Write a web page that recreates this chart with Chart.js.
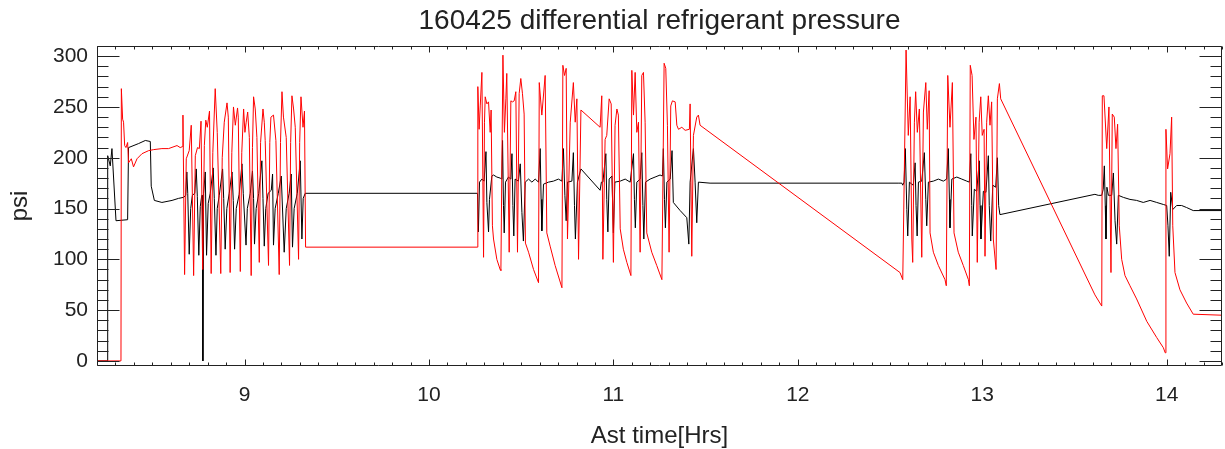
<!DOCTYPE html>
<html lang="en">
<head>
  <meta charset="UTF-8" />
  <title>160425 differential refrigerant pressure</title>
  <script src="https://cdn.jsdelivr.net/npm/chart.js@4"></script>
  <style>
    html, body { margin: 0; padding: 0; background: #fff; }
    canvas { display: block; }
  </style>
</head>
<body>
  <canvas id="grafica" width="1225" height="449"></canvas>

  <script>
    // axis ranges and labelled ticks
    const xRange = [8.2, 14.3];
    const yRange = [-5, 310];
    const xTicks = [9, 10, 11, 12, 13, 14];
    const yTicks = [0, 50, 100, 150, 200, 250, 300];

    // black trace: time [hrs] and psi
    const blackHrs = [
      8.200, 8.257, 8.258, 8.272, 8.281, 8.303, 8.366, 8.371, 8.426, 8.462, 8.489, 8.494, 8.511, 8.552, 8.607, 8.642, 8.669,
      8.681, 8.687, 8.692, 8.700, 8.708, 8.717, 8.730, 8.738, 8.744, 8.752, 8.760, 8.768, 8.771, 8.774, 8.778,
      8.787, 8.794, 8.803, 8.814, 8.830, 8.836, 8.845, 8.852, 8.863, 8.881, 8.887, 8.895, 8.904, 8.917,
      8.932, 8.939, 8.946, 8.955, 8.971, 8.986, 8.993, 9.008, 9.015, 9.031, 9.043, 9.049, 9.054, 9.063, 9.077,
      9.094, 9.100, 9.107, 9.115, 9.128, 9.145, 9.152, 9.157, 9.166, 9.183, 9.199, 9.215, 9.226, 9.242,
      9.253, 9.260, 9.269, 9.286, 9.302, 9.311, 9.318, 9.329,
      10.263, 10.268, 10.274, 10.287, 10.299, 10.309, 10.314, 10.323, 10.328, 10.341, 10.350, 10.368, 10.386,
      10.395, 10.399, 10.404, 10.408, 10.415, 10.431, 10.444, 10.450, 10.455, 10.460, 10.467, 10.485, 10.495,
      10.504, 10.512, 10.522, 10.540, 10.558, 10.576, 10.594, 10.603, 10.608, 10.612, 10.621, 10.648, 10.675,
      10.702, 10.721, 10.729, 10.737, 10.744, 10.751, 10.775, 10.783, 10.789, 10.794, 10.805, 10.824,
      10.928, 10.935, 10.943, 10.959, 10.964, 10.970, 10.977, 10.992, 11.000, 11.008, 11.037, 11.064, 11.091,
      11.109, 11.114, 11.119, 11.127, 11.145, 11.154, 11.160, 11.165, 11.174, 11.199, 11.226, 11.253, 11.266,
      11.271, 11.277, 11.282, 11.290, 11.308, 11.318, 11.325, 11.362, 11.398, 11.409, 11.416, 11.434, 11.443,
      11.452, 11.461, 11.524, 12.544,
      12.564, 12.569, 12.576, 12.583, 12.591, 12.596, 12.605, 12.618, 12.626, 12.636, 12.641, 12.647, 12.654,
      12.672, 12.686, 12.694, 12.699, 12.708, 12.735, 12.762, 12.789, 12.807, 12.816, 12.822, 12.825, 12.835,
      12.862, 12.889, 12.916, 12.930, 12.938, 12.943, 12.946, 12.957, 12.970, 12.984, 12.988, 12.993, 13.006,
      13.020, 13.033, 13.038, 13.046, 13.057, 13.073, 13.082, 13.089, 13.096,
      13.611, 13.629, 13.648, 13.656, 13.662, 13.667, 13.671, 13.676, 13.684, 13.702, 13.711, 13.720, 13.729,
      13.738, 13.765, 13.801, 13.837, 13.873, 13.910, 13.946, 13.982, 14.000, 14.007, 14.014, 14.022, 14.033,
      14.054, 14.081, 14.108, 14.144, 14.300
    ];
    const blackPsi = [
      0, 0, 202, 192, 209, 138, 139, 210, 214, 217, 216, 172, 158, 156, 158, 160, 161,
      163, 186, 165, 105, 150, 163, 165, 189, 162, 104, 152, 163, 163, 0, 165,
      186, 104, 155, 165, 190, 160, 104, 150, 163, 189, 160, 110, 150, 165,
      186, 158, 110, 150, 164, 194, 165, 114, 150, 165, 187, 160, 115, 150, 165,
      197, 160, 113, 150, 165, 168, 184, 114, 150, 165, 182, 107, 150, 165,
      184, 112, 150, 165, 197, 120, 160, 165,
      165, 127, 176, 179, 177, 206, 156, 127, 159, 182, 183, 181, 180,
      179, 217, 153, 126, 176, 181, 179, 204, 153, 123, 179, 177, 194,
      146, 118, 176, 179, 176, 179, 176, 209, 159, 128, 174, 176, 177,
      179, 177, 209, 163, 138, 176, 177, 205, 153, 120, 176, 189,
      168, 176, 176, 204, 159, 127, 179, 182, 126, 176, 177, 179, 176,
      204, 159, 131, 176, 179, 205, 153, 120, 176, 179, 181, 183, 182,
      209, 159, 131, 176, 179, 207, 156, 148, 141, 115, 176, 209, 176,
      136, 176, 175, 175,
      175, 173, 176, 209, 149, 123, 176, 174, 173, 195, 153, 123, 176,
      177, 205, 159, 133, 176, 177, 179, 177, 179, 209, 159, 131, 179,
      181, 179, 177, 176, 204, 153, 123, 169, 167, 197, 153, 120, 167,
      166, 202, 153, 118, 173, 171, 200, 153, 144,
      164, 163, 163, 169, 192, 153, 120, 171, 163, 163, 185, 138, 115,
      163, 161, 159, 158, 156, 158, 156, 154, 153, 133, 103, 166, 149,
      153, 153, 151, 148, 148
    ];

    // red trace: time [hrs] and psi
    const redHrs = [
      8.200, 8.330, 8.332, 8.339, 8.344, 8.350, 8.357, 8.366, 8.371, 8.386, 8.398, 8.417, 8.444, 8.480, 8.507,
      8.552, 8.588, 8.634, 8.651, 8.664,
      8.666, 8.675, 8.684, 8.700, 8.711, 8.724, 8.733, 8.745, 8.755, 8.764, 8.773, 8.782, 8.790, 8.798, 8.810,
      8.819, 8.828, 8.841, 8.852, 8.871, 8.879, 8.890, 8.905, 8.912, 8.922, 8.931, 8.940, 8.950, 8.962, 8.966,
      8.977, 8.985, 8.995, 9.002, 9.009, 9.017, 9.026, 9.036, 9.043, 9.049, 9.058, 9.067, 9.080, 9.087, 9.100,
      9.107, 9.112, 9.130, 9.137, 9.143, 9.157, 9.170, 9.188, 9.195, 9.203, 9.211, 9.226, 9.244, 9.250, 9.257,
      9.266, 9.275, 9.293, 9.299, 9.306, 9.317, 9.325, 9.331,
      10.263, 10.265, 10.272, 10.278, 10.287, 10.296, 10.301, 10.305, 10.314, 10.323, 10.332, 10.337, 10.344,
      10.350, 10.368, 10.386, 10.390, 10.401, 10.409, 10.417, 10.422, 10.435, 10.444, 10.453, 10.462, 10.471,
      10.480, 10.489, 10.498, 10.507, 10.516, 10.523, 10.540, 10.567, 10.594, 10.598, 10.612, 10.630, 10.639,
      10.657, 10.684, 10.721, 10.726, 10.735, 10.744, 10.751, 10.766, 10.783, 10.793, 10.802, 10.811, 10.824,
      10.928, 10.937, 10.943, 10.955, 10.964, 10.977, 10.988, 11.000, 11.009, 11.019, 11.027, 11.037, 11.054,
      11.073, 11.095, 11.100, 11.109, 11.118, 11.127, 11.136, 11.145, 11.154, 11.163, 11.172, 11.181, 11.208,
      11.235, 11.263, 11.275, 11.284, 11.293, 11.302, 11.311, 11.320, 11.335, 11.344, 11.353, 11.371, 11.389,
      11.412, 11.416, 11.425, 11.434, 11.452, 11.461, 11.470,
      12.554, 12.569, 12.587, 12.599, 12.609, 12.618, 12.623, 12.632, 12.639, 12.648, 12.659, 12.672, 12.681,
      12.694, 12.702, 12.712, 12.717, 12.735, 12.762, 12.798, 12.805, 12.813, 12.825, 12.838, 12.847, 12.870,
      12.897, 12.925, 12.930, 12.935, 12.945, 12.955, 12.966, 12.973, 12.983, 12.992, 13.000, 13.010, 13.015,
      13.024, 13.033, 13.042, 13.051, 13.060, 13.075, 13.082, 13.093, 13.100,
      13.611, 13.648, 13.651, 13.660, 13.675, 13.687, 13.698, 13.705, 13.716, 13.725, 13.734, 13.743, 13.756,
      13.774, 13.801, 13.837, 13.892, 13.946, 13.982, 13.992, 13.996, 14.005, 14.018, 14.027, 14.033, 14.045,
      14.072, 14.108, 14.144, 14.300
    ];
    const redPsi = [
      0, 0, 268, 238, 235, 212, 210, 215, 195, 199, 191, 199, 204, 207, 208,
      209, 209, 212, 210, 211,
      242, 85, 199, 207, 232, 84, 202, 210, 209, 236, 90, 212, 237, 230, 246,
      86, 205, 268, 225, 86, 200, 235, 254, 240, 87, 205, 250, 232, 249, 240,
      88, 205, 248, 225, 235, 245, 220, 84, 210, 260, 248, 220, 97, 215, 248,
      235, 217, 94, 215, 240, 242, 217, 85, 215, 265, 240, 220, 94, 215, 261,
      248, 230, 100, 215, 260, 230, 246, 112,
      112, 270, 228, 251, 284, 102, 235, 260, 253, 255, 225, 247, 133,
      120, 100, 90, 89, 301, 225, 258, 283, 107, 256, 255, 256, 265,
      107, 263, 278, 263, 243, 116, 107, 90, 77, 274, 242, 281, 126,
      113, 94, 72, 291, 281, 288, 120, 235, 274, 235, 258, 100, 247,
      230, 261, 100, 218, 222, 258, 253, 97, 232, 248, 242, 130, 110,
      97, 84, 286, 242, 284, 225, 235, 107, 281, 284, 235, 126, 107,
      94, 80, 293, 288, 232, 107, 251, 256, 255, 232, 228, 230, 227,
      228, 253, 103, 222, 240, 242, 232,
      87, 80, 306, 222, 260, 120, 97, 235, 265, 225, 248, 102, 245,
      274, 228, 266, 126, 107, 94, 80, 74, 281, 230, 274, 126, 107,
      94, 80, 74, 291, 281, 218, 240, 97, 235, 260, 222, 228, 103,
      235, 261, 232, 255, 120, 90, 258, 273, 258,
      65, 54, 261, 261, 209, 250, 87, 243, 240, 209, 233, 133, 100,
      84, 74, 61, 39, 23, 13, 8, 228, 189, 204, 240, 133, 87,
      70, 57, 46, 45
    ];

    const fuente = "'Liberation Sans', Arial, Helvetica, sans-serif";
    const tinta = '#222';

    const pares = (hrs, psi) => hrs.map((h, i) => ({ x: h, y: psi[i] }));

    // IDL style box: frame with inward ticks on all four sides
    const marco = {
      id: 'marco',
      afterDraw(chart) {
        const { ctx, chartArea: a, scales: { x, y } } = chart;
        const L = Math.round(a.left) + 0.5, R = Math.round(a.right) - 0.5;
        const T = Math.round(a.top) + 0.5, B = Math.round(a.bottom) - 0.5;
        ctx.save();
        ctx.strokeStyle = tinta;
        ctx.lineWidth = 1;
        ctx.beginPath();
        ctx.rect(L, T, R - L, B - T);
        for (let v = 0; v <= 310; v += 10) {
          const py = Math.round(y.getPixelForValue(v)) + 0.5;
          const len = v % 50 === 0 ? 22 : 11;
          ctx.moveTo(L, py); ctx.lineTo(L + len, py);
          ctx.moveTo(R, py); ctx.lineTo(R - len, py);
        }
        for (let i = 82; i <= 143; i++) {
          const px = Math.round(x.getPixelForValue(i / 10)) + 0.5;
          const len = i % 10 === 0 ? 6 : 3;
          ctx.moveTo(px, B); ctx.lineTo(px, B - len);
          ctx.moveTo(px, T); ctx.lineTo(px, T + len);
        }
        ctx.stroke();
        ctx.restore();
      }
    };

    new Chart(document.getElementById('grafica'), {
      type: 'line',
      data: {
        datasets: [
          {
            label: 'red',
            data: pares(redHrs, redPsi),
            borderColor: '#ff0000',
            borderWidth: 1,
            borderJoinStyle: 'round',
            pointRadius: 0,
            tension: 0,
            fill: false
          },
          {
            label: 'black',
            data: pares(blackHrs, blackPsi),
            borderColor: '#000000',
            borderWidth: 1,
            borderJoinStyle: 'round',
            pointRadius: 0,
            tension: 0,
            fill: false
          }
        ]
      },
      options: {
        responsive: false,
        devicePixelRatio: 1,
        animation: false,
        layout: { padding: { left: 0, right: 3, top: 0, bottom: 0 } },
        plugins: {
          legend: { display: false },
          tooltip: { enabled: false },
          title: {
            display: true,
            fullSize: false,
            text: '160425 differential refrigerant pressure',
            color: tinta,
            font: { family: fuente, size: 28, weight: 'normal' },
            padding: { top: 4, bottom: 8.4 }
          }
        },
        scales: {
          x: {
            type: 'linear',
            min: xRange[0],
            max: xRange[1],
            grid: { display: false, drawTicks: false },
            border: { display: false },
            afterBuildTicks: s => { s.ticks = xTicks.map(v => ({ value: v })); },
            afterFit: s => { s.height = 83; },
            ticks: { color: tinta, font: { family: fuente, size: 21 }, padding: 17, maxRotation: 0 },
            title: {
              display: true,
              text: 'Ast time[Hrs]',
              color: tinta,
              font: { family: fuente, size: 24 },
              padding: { top: 0, bottom: -2 }
            }
          },
          y: {
            type: 'linear',
            min: yRange[0],
            max: yRange[1],
            grid: { display: false, drawTicks: false },
            border: { display: false },
            afterBuildTicks: s => { s.ticks = yTicks.map(v => ({ value: v })); },
            afterFit: s => { s.width = 97; },
            ticks: { color: tinta, font: { family: fuente, size: 21 }, padding: 9 },
            title: {
              display: true,
              text: 'psi',
              color: tinta,
              font: { family: fuente, size: 24 },
              padding: { top: 6, bottom: 0 }
            }
          }
        }
      },
      plugins: [marco]
    });
  </script>
</body>
</html>
